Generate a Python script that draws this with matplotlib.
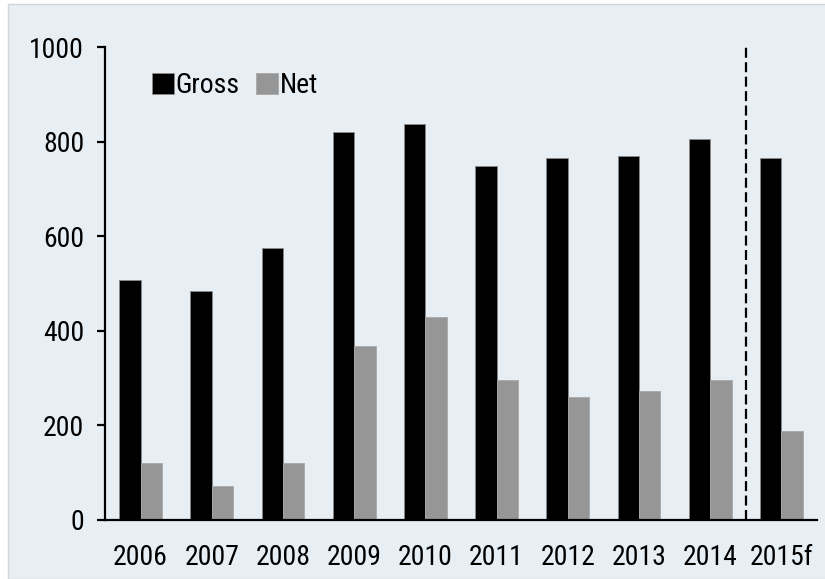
import matplotlib.pyplot as plt
import numpy as np
from matplotlib.patches import Rectangle

years = ['2006', '2007', '2008', '2009', '2010', '2011', '2012', '2013', '2014', '2015f']
gross = [507, 484, 574, 820, 837, 748, 765, 770, 805, 765]
net = [120, 72, 120, 368, 429, 295, 261, 272, 295, 188]

bg = '#e8eff4'
plt.rcParams['font.family'] = ['Roboto Condensed', 'Liberation Sans', 'DejaVu Sans']
fs = 20

fig = plt.figure(figsize=(8.25, 5.79), dpi=100)
fig.patch.set_facecolor('white')
fig.patches.append(Rectangle((8 / 825, 0), 1, 1 - 4 / 579, transform=fig.transFigure,
                             facecolor=bg, edgecolor='#d0d6db', linewidth=1, zorder=-1))

ax = fig.add_axes([105 / 825, 1 - 520 / 579, 712 / 825, 473 / 579])
ax.set_facecolor(bg)

x = np.arange(len(years))
w = 0.3
ax.bar(x - w / 2, gross, w, color='black', edgecolor='#8a8a8a', linewidth=0.6, label='Gross')
ax.bar(x + w / 2, net, w, color='#969696', edgecolor='#a8a8a8', linewidth=0.6, label='Net')

# forecast separator
ax.plot([8.5, 8.5], [0, 1000], color='black', linestyle=(0, (4.5, 2)), linewidth=1.6)

ax.set_xlim(-0.5, len(years) - 0.5)
ax.set_ylim(0, 1000)
ax.set_yticks([0, 200, 400, 600, 800, 1000])
ax.set_xticks(x)
ax.set_xticklabels(years)

for s in ['top', 'right']:
    ax.spines[s].set_visible(False)
ax.spines['left'].set_linewidth(1.6)
ax.spines['bottom'].set_linewidth(1.6)
ax.tick_params(axis='y', length=6, width=1.6, pad=9, labelsize=fs)
ax.tick_params(axis='x', length=0, pad=17, labelsize=fs)

ax.legend(loc='upper left', bbox_to_anchor=(0.05, 0.97), ncol=2, frameon=False,
          fontsize=fs, handlelength=0.8, handleheight=0.8, handletextpad=0.05,
          columnspacing=0.6, borderaxespad=0)

plt.savefig('out.png', dpi=100, facecolor=fig.get_facecolor())
